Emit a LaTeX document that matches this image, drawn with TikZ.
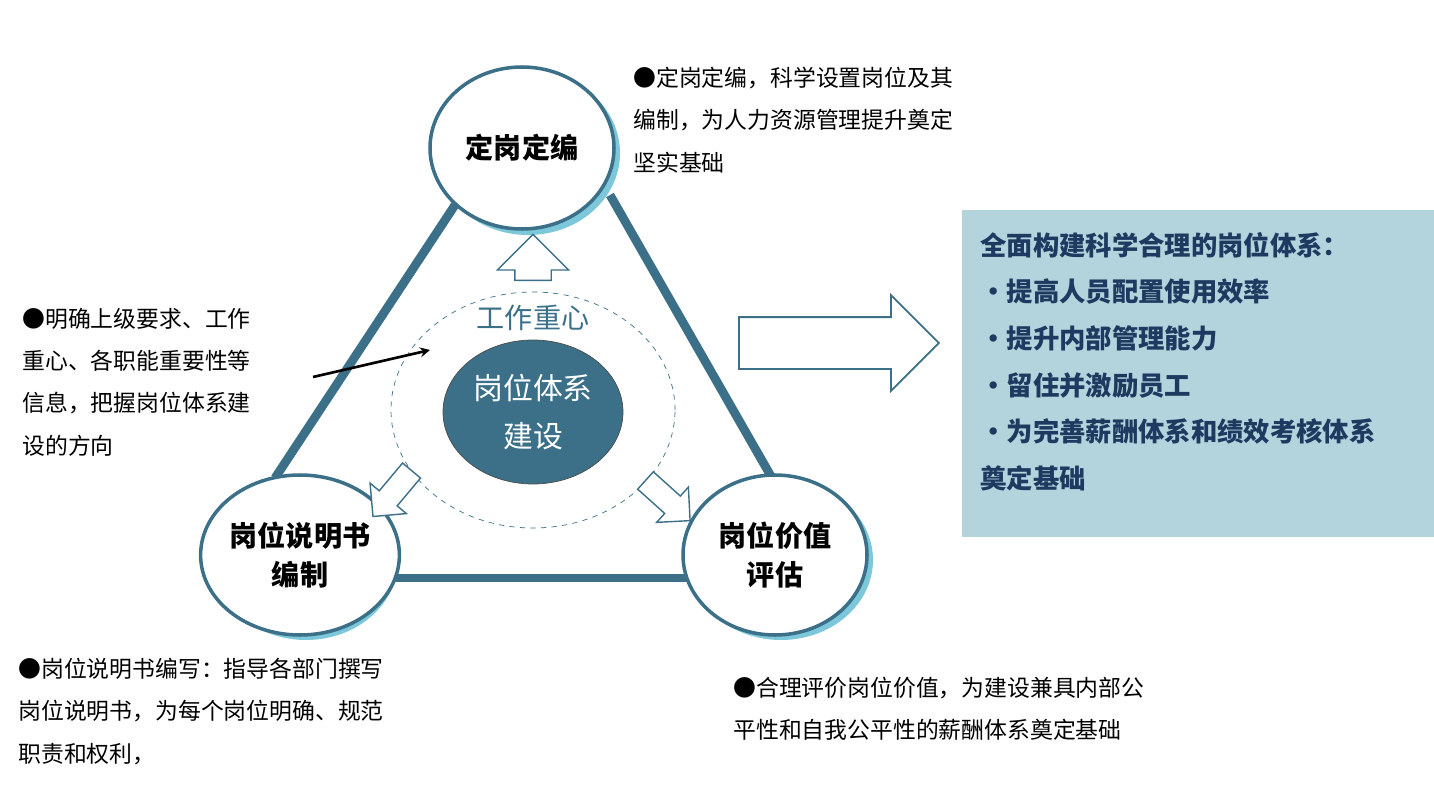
\documentclass[tikz,border=0pt]{standalone}
\usepackage{fontspec}
\setmainfont{Noto Sans CJK SC}
\usetikzlibrary{shapes.arrows,shapes.geometric}
\definecolor{teal1}{HTML}{3B7088}
\definecolor{shad}{HTML}{7CC7DA}
\definecolor{boxbg}{HTML}{B3D3DD}
\definecolor{navy}{HTML}{1F3A60}
\newlength{\pu}\setlength{\pu}{0.02cm}
\tikzset{
  circ/.style={draw=teal1,line width=2pt,fill=white,ellipse,inner sep=0pt,minimum width=184\pu,minimum height=162\pu,align=center,font=\bfseries\fontsize{16}{22}\selectfont},
  side/.style={teal1,line width=5pt},
  hollow/.style={single arrow,draw=teal1,fill=white,line width=0.8pt,anchor=tail,inner sep=0pt,text width=0pt,text depth=0pt},
  txt/.style={anchor=north west,align=left,font=\fontsize{13}{24}\selectfont,inner sep=0pt},
}
\begin{document}
\begin{tikzpicture}[x=0.02cm,y=-0.02cm]
\useasboundingbox (0,0) rectangle (1434,791);
% triangle sides
\coordinate (t1) at (455,205); \coordinate (l1) at (275,478);
\coordinate (t2) at (610,195); \coordinate (r1) at (772,478);
\coordinate (b1) at (395,578); \coordinate (b2) at (690,578);
\draw[side] (t1)--(l1); \draw[side] (t2)--(r1); \draw[side] (b1)--(b2);
% shadows
\fill[shad] (528,153) ellipse (92 and 82);
\fill[shad] (306,560) ellipse (92 and 80);
\fill[shad] (781,560) ellipse (92 and 80);
\node[circ] (top) at (522,148) {定岗定编};
\node[circ,minimum height=160\pu] (bl) at (300,555) {岗位说明书\\编制};
\node[circ,minimum height=160\pu] (br) at (775,555) {岗位价值\\评估};
% center
\node[draw=teal1,dashed,ellipse,minimum width=284\pu,minimum height=236\pu] (ring) at (533,410) {};
\node[fill=teal1,draw=black!70,ellipse,inner sep=0pt,minimum width=180\pu,minimum height=144\pu,text=white,align=center,font=\fontsize{17}{27}\selectfont] (core) at (533,412) {岗位体系\\建设};
\node[text=teal1,font=\fontsize{16}{20}\selectfont] (focus) at (533,318) {工作重心};
% hollow arrows
\node[hollow,rotate=90,minimum height=46\pu,minimum width=70\pu,single arrow head extend=17.5\pu,text height=35\pu] (ua) at (533,281) {};
\node[hollow,rotate=-130,minimum height=60\pu,minimum width=46\pu,single arrow head extend=12\pu,text height=22\pu] (la) at (412,470) {};
\node[hollow,rotate=-42,minimum height=60\pu,minimum width=46\pu,single arrow head extend=12\pu,text height=22\pu] (ra) at (645,480) {};
% big arrow
\node[hollow,line width=1pt,minimum height=200\pu,minimum width=95\pu,single arrow head extend=22\pu,text height=50\pu] (big) at (738,343) {};
% black arrow
\coordinate (as) at (313,377); \coordinate (ae) at (430,350);
\draw[-stealth,line width=1.5pt] (as)--(ae);
% box
\fill[boxbg] (962,210) rectangle (1434,537);
\node[txt,text=navy,font=\bfseries\fontsize{15}{26.5}\selectfont] (boxtxt) at (980,232) {全面构建科学合理的岗位体系：\\•提高人员配置使用效率\\•提升内部管理能力\\•留住并激励员工\\•为完善薪酬体系和绩效考核体系\\奠定基础};
% texts
\node[txt] (t_top) at (633,67) {●定岗定编，科学设置岗位及其\\编制，为人力资源管理提升奠定\\坚实基础};
\node[txt] (t_left) at (22,308) {●明确上级要求、工作\\重心、各职能重要性等\\信息，把握岗位体系建\\设的方向};
\node[txt] (t_bl) at (18,658) {●岗位说明书编写：指导各部门撰写\\岗位说明书，为每个岗位明确、规范\\职责和权利，};
\node[txt] (t_br) at (733,677) {●合理评价岗位价值，为建设兼具内部公\\平性和自我公平性的薪酬体系奠定基础};
\end{tikzpicture}
\end{document}
